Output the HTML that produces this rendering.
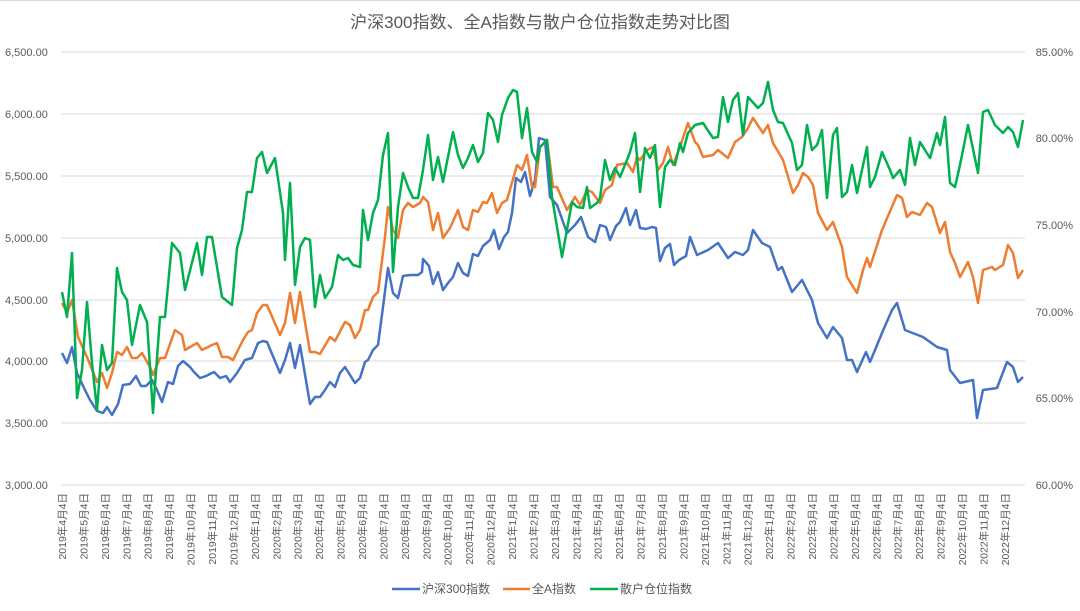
<!DOCTYPE html>
<html><head><meta charset="utf-8"><style>
html,body{margin:0;padding:0;background:#fff}
svg{display:block;font-family:"Liberation Sans","Noto Sans CJK SC",sans-serif}
</style></head><body>
<svg width="1080" height="611" viewBox="0 0 1080 611" xmlns="http://www.w3.org/2000/svg">
<rect x="0" y="0" width="1080" height="611" fill="#fff"/>
<line x1="0" y1="0.5" x2="1080" y2="0.5" stroke="#d9d9d9"/>
<text x="540" y="28" text-anchor="middle" font-size="17" fill="#595959">沪深300指数、全A指数与散户仓位指数走势对比图</text>
<g stroke="#d9d9d9" stroke-width="1">
<line x1="61" y1="52" x2="1025" y2="52"/><line x1="61" y1="114" x2="1025" y2="114"/>
<line x1="61" y1="176" x2="1025" y2="176"/><line x1="61" y1="238" x2="1025" y2="238"/>
<line x1="61" y1="300" x2="1025" y2="300"/><line x1="61" y1="361" x2="1025" y2="361"/>
<line x1="61" y1="423" x2="1025" y2="423"/><line x1="61" y1="485" x2="1025" y2="485"/>
</g>
<g font-size="11" fill="#595959" text-anchor="start">
<text x="5" y="56">6,500.00</text><text x="5" y="118">6,000.00</text><text x="5" y="180">5,500.00</text>
<text x="5" y="242">5,000.00</text><text x="5" y="304">4,500.00</text><text x="5" y="365">4,000.00</text>
<text x="5" y="427">3,500.00</text><text x="5" y="489">3,000.00</text>
</g>
<g font-size="11" fill="#595959" text-anchor="end">
<text x="1073" y="56">85.00%</text><text x="1073" y="142">80.00%</text><text x="1073" y="229">75.00%</text>
<text x="1073" y="316">70.00%</text><text x="1073" y="402">65.00%</text><text x="1073" y="489">60.00%</text>
</g>
<g font-size="10.5" fill="#595959" text-anchor="end">
<text transform="translate(66,493) rotate(-90)">2019年4月4日</text>
<text transform="translate(87.4,493) rotate(-90)">2019年5月4日</text>
<text transform="translate(108.9,493) rotate(-90)">2019年6月4日</text>
<text transform="translate(130.3,493) rotate(-90)">2019年7月4日</text>
<text transform="translate(151.7,493) rotate(-90)">2019年8月4日</text>
<text transform="translate(173.2,493) rotate(-90)">2019年9月4日</text>
<text transform="translate(194.6,493) rotate(-90)">2019年10月4日</text>
<text transform="translate(216,493) rotate(-90)">2019年11月4日</text>
<text transform="translate(237.4,493) rotate(-90)">2019年12月4日</text>
<text transform="translate(258.9,493) rotate(-90)">2020年1月4日</text>
<text transform="translate(280.3,493) rotate(-90)">2020年2月4日</text>
<text transform="translate(301.7,493) rotate(-90)">2020年3月4日</text>
<text transform="translate(323.2,493) rotate(-90)">2020年4月4日</text>
<text transform="translate(344.6,493) rotate(-90)">2020年5月4日</text>
<text transform="translate(366,493) rotate(-90)">2020年6月4日</text>
<text transform="translate(387.4,493) rotate(-90)">2020年7月4日</text>
<text transform="translate(408.9,493) rotate(-90)">2020年8月4日</text>
<text transform="translate(430.3,493) rotate(-90)">2020年9月4日</text>
<text transform="translate(451.7,493) rotate(-90)">2020年10月4日</text>
<text transform="translate(473.2,493) rotate(-90)">2020年11月4日</text>
<text transform="translate(494.6,493) rotate(-90)">2020年12月4日</text>
<text transform="translate(516,493) rotate(-90)">2021年1月4日</text>
<text transform="translate(537.4,493) rotate(-90)">2021年2月4日</text>
<text transform="translate(558.9,493) rotate(-90)">2021年3月4日</text>
<text transform="translate(580.3,493) rotate(-90)">2021年4月4日</text>
<text transform="translate(601.7,493) rotate(-90)">2021年5月4日</text>
<text transform="translate(623.2,493) rotate(-90)">2021年6月4日</text>
<text transform="translate(644.6,493) rotate(-90)">2021年7月4日</text>
<text transform="translate(666,493) rotate(-90)">2021年8月4日</text>
<text transform="translate(687.4,493) rotate(-90)">2021年9月4日</text>
<text transform="translate(708.9,493) rotate(-90)">2021年10月4日</text>
<text transform="translate(730.3,493) rotate(-90)">2021年11月4日</text>
<text transform="translate(751.7,493) rotate(-90)">2021年12月4日</text>
<text transform="translate(773.2,493) rotate(-90)">2022年1月4日</text>
<text transform="translate(794.6,493) rotate(-90)">2022年2月4日</text>
<text transform="translate(816,493) rotate(-90)">2022年3月4日</text>
<text transform="translate(837.4,493) rotate(-90)">2022年4月4日</text>
<text transform="translate(858.9,493) rotate(-90)">2022年5月4日</text>
<text transform="translate(880.3,493) rotate(-90)">2022年6月4日</text>
<text transform="translate(901.7,493) rotate(-90)">2022年7月4日</text>
<text transform="translate(923.2,493) rotate(-90)">2022年8月4日</text>
<text transform="translate(944.6,493) rotate(-90)">2022年9月4日</text>
<text transform="translate(966,493) rotate(-90)">2022年10月4日</text>
<text transform="translate(987.4,493) rotate(-90)">2022年11月4日</text>
<text transform="translate(1008.9,493) rotate(-90)">2022年12月4日</text>
</g>
<g fill="none" stroke-width="2.5" stroke-linejoin="round">
<polyline stroke="#4472c4" points="62,353 67,363 72,347 77,373 85,390 90,400 97,411 103,413 107,407 112,415 118,404 123,385 130,384 136,376 141,386 146,386 152,380 157,390 162,402 168,382 173,384 178,366 183,361 190,367 194,372 200,378 206,376 214,372 220,378 226,376 230,382 237,373 245,360 252,358 258,343 263,341 267,342 280,373 285,360 290,343 295,368 300,345 310,404 315,397 320,397 325,390 330,382 335,387 340,373 345,367 350,375 355,383 360,378 365,362 368,360 373,350 378,345 383,307 388,268 393,293 398,298 403,276 410,275 418,275 422,272 423,259 429,266 433,284 438,272 443,290 448,283 453,277 458,263 463,273 468,276 473,254 478,256 483,246 490,240 494,230 499,249 504,237 508,232 512,213 516,178 521,182 525,172 530,196 535,180 539,138 545,140 550,197 557,205 567,233 575,225 581,217 588,237 595,242 600,225 606,227 610,240 616,226 620,222 626,208 630,225 636,210 640,228 646,229 652,227 656,228 660,261 665,248 670,244 674,265 679,260 686,256 690,237 697,255 708,250 718,243 728,258 735,252 743,255 748,250 753,230 762,243 770,247 778,270 782,267 792,292 802,280 812,300 818,323 827,338 833,327 842,338 847,360 852,360 857,372 866,352 870,362 875,350 882,333 892,310 897,303 905,330 910,332 923,337 937,347 947,350 950,370 960,383 973,380 977,418 983,390 997,388 1007,362 1013,367 1018,382 1023,377"/>
<polyline stroke="#ed7d31" points="62,303 67,313 72,300 78,337 87,357 97,382 102,373 107,388 112,373 117,352 122,355 127,347 132,358 137,358 142,353 150,367 153,375 160,358 165,358 175,330 182,335 185,350 197,343 202,350 212,345 217,343 222,357 228,357 233,360 243,340 248,332 252,330 257,313 263,305 267,305 280,335 285,323 290,293 295,323 300,292 310,352 315,352 320,354 330,337 335,341 345,322 350,325 355,338 360,330 365,310 368,310 373,297 378,292 385,237 388,207 393,230 398,238 403,210 408,203 413,207 420,203 423,197 428,202 433,230 438,213 443,238 450,228 458,210 463,227 468,230 473,210 478,212 483,202 487,203 492,193 497,213 502,203 507,200 517,165 522,170 527,155 532,187 535,187 540,147 547,140 553,187 557,187 567,210 575,197 580,205 587,190 592,192 600,203 605,190 612,185 617,165 627,163 633,172 637,157 640,160 647,150 653,147 658,170 663,163 668,147 673,165 680,147 688,123 695,142 698,145 703,157 713,155 718,150 728,158 735,142 742,137 748,128 753,118 763,133 768,125 773,143 783,160 793,193 798,185 803,173 808,177 813,185 818,213 827,230 833,222 842,247 847,277 857,293 863,270 867,258 870,267 882,230 897,195 902,198 907,217 912,212 920,215 927,203 932,207 940,233 945,222 950,252 955,263 960,277 968,262 973,277 978,303 983,270 992,267 995,270 1003,265 1008,245 1013,253 1018,278 1023,270"/>
<polyline stroke="#00b050" points="62,292 67,317 72,253 77,398 82,370 87,302 92,363 97,410 102,345 107,370 112,363 117,268 122,292 127,300 132,345 140,305 147,322 153,413 160,317 165,317 172,243 180,253 185,290 197,243 202,275 207,237 212,237 222,297 232,305 237,248 242,230 247,192 252,192 257,158 262,152 267,173 275,158 283,213 285,260 290,183 295,285 300,247 305,238 310,240 315,307 320,275 325,298 332,287 338,255 343,260 348,258 353,265 360,267 363,210 368,240 373,213 378,200 383,155 388,133 393,272 398,207 403,173 408,187 413,198 418,198 423,170 428,135 433,180 438,157 443,182 448,157 453,132 458,155 463,168 468,158 473,145 478,162 483,153 488,113 493,120 498,142 502,115 508,98 513,90 517,92 522,138 527,108 532,152 537,162 540,147 547,140 552,197 562,257 572,202 577,207 583,208 587,187 590,208 597,203 600,198 605,160 610,180 615,168 620,177 627,160 630,152 635,133 640,192 645,148 650,158 655,145 660,207 665,167 670,160 675,165 680,143 683,152 688,133 695,125 703,123 713,138 718,137 723,97 728,122 733,100 738,93 743,135 748,97 758,108 763,103 768,82 773,110 778,122 783,123 792,143 797,170 802,165 807,125 812,150 817,145 822,130 827,198 833,135 837,128 842,197 847,192 852,165 857,193 867,147 870,187 875,177 882,152 890,170 893,178 900,170 905,185 910,138 915,165 920,142 930,158 937,133 940,145 945,117 950,183 955,187 960,165 968,125 978,173 983,112 988,110 995,125 1003,133 1008,127 1013,132 1018,147 1023,120"/>
</g>
<g font-size="12" fill="#595959">
<line x1="392" y1="589" x2="420" y2="589" stroke="#4472c4" stroke-width="2.5"/>
<text x="422" y="593">沪深300指数</text>
<line x1="503" y1="589" x2="530" y2="589" stroke="#ed7d31" stroke-width="2.5"/>
<text x="532" y="593">全A指数</text>
<line x1="590" y1="589" x2="618" y2="589" stroke="#00b050" stroke-width="2.5"/>
<text x="620" y="593">散户仓位指数</text>
</g>
</svg>
</body></html>
